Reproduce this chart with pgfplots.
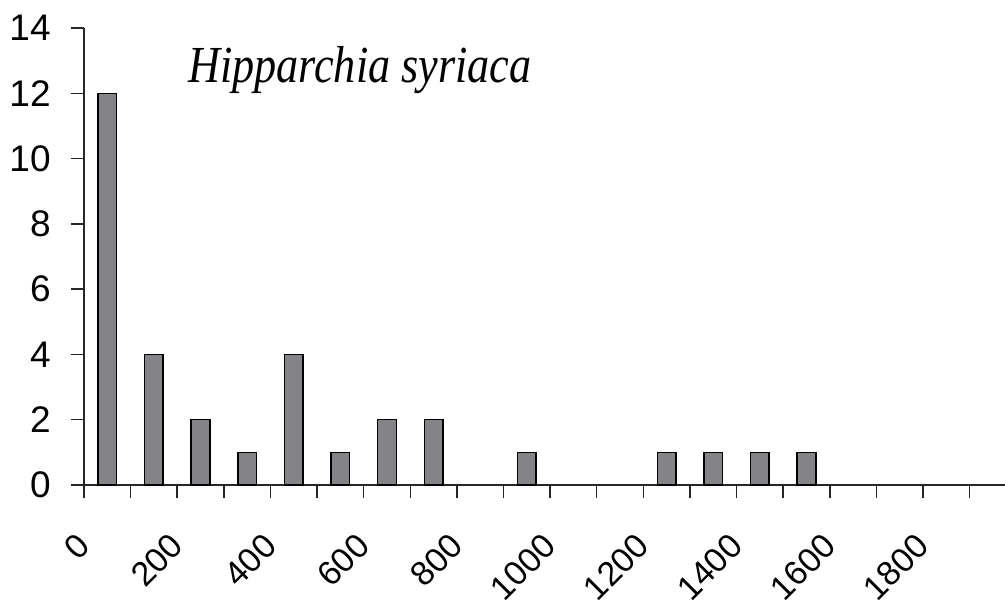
\documentclass[border=0pt]{standalone}
\usepackage{fontspec}
\setmainfont{Liberation Sans}
\newfontfamily\titlefont{Liberation Serif}
\usepackage{pgfplots}
\pgfplotsset{compat=1.18}
\definecolor{barfill}{RGB}{132,132,136}
\begin{document}
\begin{tikzpicture}
\path[use as bounding box] (-42pt,-61pt) rectangle (460.5pt,242.5pt);
\begin{axis}[
  scale only axis,
  width=460.5pt, height=228.5pt,
  xmin=0, xmax=1976, ymin=0, ymax=14,
  axis x line*=bottom, axis y line*=left,
  axis line style={line width=0.75pt, black!85},
  xtick={0,200,...,1800},
  minor xtick={100,300,...,1900},
  xticklabels={0,200,400,600,800,1000,1200,1400,1600,1800},
  ytick={0,2,...,14},
  tick align=outside,
  major tick length=6.5pt,
  minor tick length=6.5pt,
  tick style={line width=0.75pt, black!85},
  /pgf/number format/assume math mode=true,
  yticklabel style={font=\fontsize{18.5}{22}\selectfont, anchor=east, inner sep=0pt, xshift=-10pt},
  xticklabel shift=21pt,
  xticklabel style={font=\fontsize{17}{20}\selectfont, anchor=east, inner sep=0pt, rotate=45},
  clip=false,
]
\addplot[ybar, bar width=40, fill=barfill, draw=black, line width=0.75pt] coordinates {
  (50,12) (150,4) (250,2) (350,1) (450,4) (550,1) (650,2) (750,2)
  (950,1) (1250,1) (1350,1) (1450,1) (1550,1)
};
\node[anchor=base west, inner sep=0pt, xscale=0.85, font=\titlefont\itshape\fontsize{26}{30}\selectfont] at (axis cs:223,12.33) {Hipparchia syriaca};
\end{axis}
\end{tikzpicture}
\end{document}
